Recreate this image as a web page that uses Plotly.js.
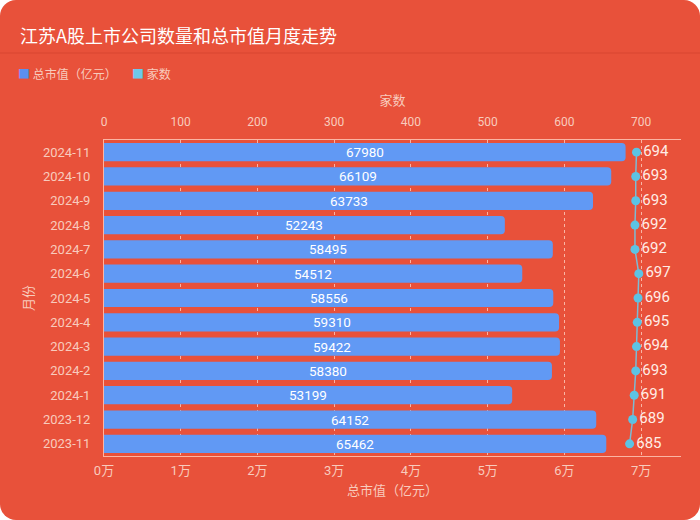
<!DOCTYPE html>
<html>
<head>
<meta charset="utf-8">
<script src="https://cdn.plot.ly/plotly-3.0.1.min.js"></script>
<style>
html,body{margin:0;padding:0;background:#ffffff;}
#chart{width:700px;height:520px;border-radius:16px;overflow:hidden;}
</style>
</head>
<body>
<div id="chart"></div>
<script>
// Data (chronological, bottom to top)
const months = ["2023-11","2023-12","2024-1","2024-2","2024-3","2024-4","2024-5","2024-6","2024-7","2024-8","2024-9","2024-10","2024-11"];
const marketCap = [65462,64152,53199,58380,59422,59310,58556,54512,58495,52243,63733,66109,67980];
const companyCount = [685,689,691,693,694,695,696,697,692,692,693,693,694];
const capTickVals = [0,10000,20000,30000,40000,50000,60000,70000];
const capTickText = ["0万","1万","2万","3万","4万","5万","6万","7万"];
const countTickVals = [0,100,200,300,400,500,600,700];

const BG = "#E8513A";
const PALE = "#F8CBBD";
const FONT = "Roboto, 'Noto Sans CJK SC', sans-serif";

const barTrace = {
  type: "bar",
  orientation: "h",
  y: months,
  x: marketCap,
  name: "总市值（亿元）",
  marker: {color: "#6199F4", cornerradius: 4},
  hoverinfo: "x+y",
  showlegend: false
};

const lineTrace = {
  type: "scatter",
  mode: "lines+markers+text",
  y: months,
  x: companyCount,
  xaxis: "x2",
  yaxis: "y",
  name: "家数",
  line: {color: "#7DBBD3", width: 1.5},
  marker: {color: "#5CC3E4", size: 9},
  text: companyCount.map(String),
  textposition: "middle right",
  textfont: {color: "#FFEDE6", size: 15, family: FONT},
  cliponaxis: false,
  showlegend: false
};

// value labels centred on each bar
const barLabels = months.map((m, i) => ({
  xref: "x", yref: "y", x: marketCap[i] / 2, y: m,
  text: String(marketCap[i]), showarrow: false,
  xanchor: "center", yanchor: "middle",
  font: {color: "#ffffff", size: 13.5, family: FONT}
}));

const layout = {
  width: 700,
  height: 520,
  paper_bgcolor: BG,
  plot_bgcolor: BG,
  margin: {l: 104, r: 19, t: 140, b: 64},
  font: {family: FONT, color: PALE, size: 12},
  title: {
    text: "江苏A股上市公司数量和总市值月度走势",
    x: 20/700, xref: "container", xanchor: "left",
    y: 1 - 37/520, yref: "container", yanchor: "middle",
    font: {color: "#ffffff", size: 18, family: "'Noto Sans CJK SC', sans-serif"}
  },
  bargap: 0.25,
  xaxis: {
    range: [0, 75200],
    tickvals: capTickVals,
    ticktext: capTickText,
    showgrid: true,
    gridcolor: "rgba(255,215,200,0.75)",
    griddash: "3px,3px",
    gridwidth: 1,
    zeroline: false,
    showline: true,
    linecolor: "rgba(255,205,190,0.8)",
    linewidth: 1,
    ticks: "",
    automargin: false,
    ticklabelstandoff: 2,
    tickfont: {color: PALE, size: 13, family: FONT},
    title: {text: "总市值（亿元）", font: {color: PALE, size: 13}, standoff: 9},
    fixedrange: true
  },
  xaxis2: {
    overlaying: "x",
    side: "top",
    range: [0, 752],
    tickvals: countTickVals,
    showgrid: false,
    zeroline: false,
    showline: true,
    linecolor: "rgba(255,205,190,0.8)",
    linewidth: 1,
    ticks: "",
    automargin: false,
    ticklabelstandoff: 8,
    tickfont: {color: PALE, size: 12, family: FONT},
    title: {text: "家数", font: {color: PALE, size: 13}, standoff: 6}
  },
  yaxis: {
    type: "category",
    range: [-0.5, months.length - 0.5],
    showgrid: false,
    zeroline: false,
    showline: true,
    linecolor: "rgba(255,205,190,0.8)",
    linewidth: 1,
    ticks: "",
    automargin: false,
    ticklabelstandoff: 10,
    tickfont: {color: PALE, size: 13, family: FONT},
    title: {text: "月份", font: {color: PALE, size: 13}, standoff: 6}
  },
  shapes: [
    {type: "line", xref: "paper", yref: "paper",
     x0: -104/577, x1: 596/577, y0: 1 + 87/316, y1: 1 + 87/316,
     line: {color: "rgba(150,30,10,0.18)", width: 1}}
  ],
  annotations: barLabels.concat([
    {xref: "paper", yref: "paper", x: -88/577, y: 1 + 67/316, xanchor: "left", yanchor: "middle",
     showarrow: false, text: '<span style="color:#5B8FF0">■</span> 总市值（亿元）',
     font: {color: PALE, size: 12, family: "'Noto Sans CJK SC', sans-serif"}},
    {xref: "paper", yref: "paper", x: 26/577, y: 1 + 67/316, xanchor: "left", yanchor: "middle",
     showarrow: false, text: '<span style="color:#6EC8EA">■</span> 家数',
     font: {color: PALE, size: 12, family: "'Noto Sans CJK SC', sans-serif"}}
  ])
};

Plotly.newPlot("chart", [barTrace, lineTrace], layout, {displayModeBar: false, staticPlot: true});
</script>
</body>
</html>
